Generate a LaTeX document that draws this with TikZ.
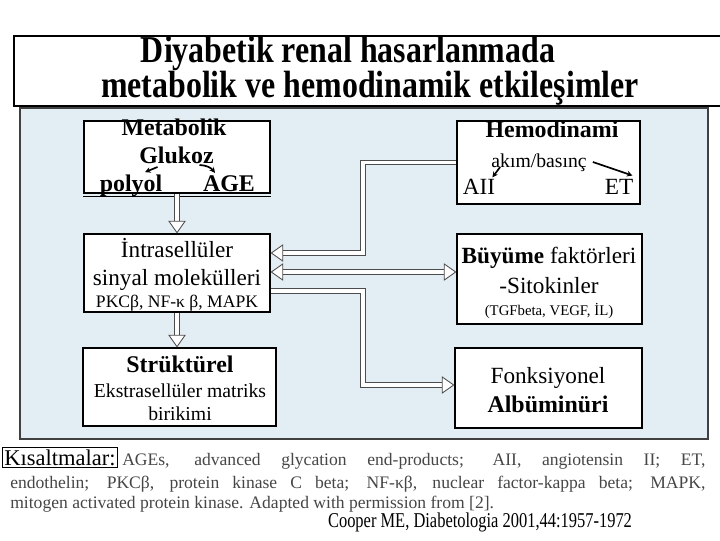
\documentclass[tikz,border=0pt]{standalone}
\usepackage{fontspec}
\setmainfont{Liberation Serif}
\newfontfamily\narrowfont[FakeStretch=0.78]{Liberation Serif}
\newfontfamily\titlefont[FakeStretch=0.84]{Liberation Serif}
\usetikzlibrary{arrows.meta,calc}
\definecolor{panelblue}{RGB}{226,238,243}
\definecolor{notegray}{RGB}{70,70,70}
\tikzset{>=Stealth,
  box/.style={draw,fill=white,line width=0.8pt,inner sep=0pt},
  txt/.style={anchor=base,inner sep=0pt},
  big/.style={font=\fontsize{16.5}{19}\selectfont},
  bigb/.style={font=\bfseries\fontsize{17}{20}\selectfont},
  mid/.style={font=\fontsize{14}{16}\selectfont},
  head/.style={txt,font=\titlefont\bfseries\fontsize{27}{30}\selectfont},
  note/.style={anchor=base west,inner sep=0pt,text=notegray,font=\fontsize{12.5}{14}\selectfont},
  link/.style={draw=black!70,double=white,line width=0.6pt,double distance=2.8pt,
    -{Triangle[open,fill=white,length=9pt,width=12.5pt]}},
  linkboth/.style={link,{Triangle[open,fill=white,length=9pt,width=12.5pt]}-{Triangle[open,fill=white,length=9pt,width=12.5pt]}},
  small/.style={->,line width=1.2pt,>={Stealth[length=4pt,width=4pt]}}}
\begin{document}
\begin{tikzpicture}[x=0.025cm,y=-0.025cm]
\useasboundingbox (0,0) rectangle (720,540);
\fill[white] (0,0) rectangle (720,540);
% title
\draw[line width=0.8pt] (720,36) -- (14,36) -- (14,106) -- (720,106);
\node[head] (title1) at (348,62) {Diyabetik renal hasarlanmada};
\node[head] (title2) at (370,97) {metabolik ve hemodinamik etkileşimler};
% panel
\draw[draw=black!75,fill=panelblue,line width=1pt] (20,108) rectangle (708,439);
% boxes
\node[box,minimum width=4.65cm,minimum height=1.8cm] (met) at (177,157) {};
\draw[line width=0.8pt] ([yshift=-2pt]met.south west) -- ([yshift=-2pt]met.south east);
\node[box,minimum width=4.575cm,minimum height=2.075cm] (hemo) at (548.5,162.5) {};
\node[box,minimum width=4.65cm,minimum height=1.95cm] (intra) at (177,273) {};
\node[box,minimum width=4.625cm,minimum height=2.25cm] (growth) at (549.5,279) {};
\node[box,minimum width=4.825cm,minimum height=1.95cm] (struct) at (179.5,387) {};
\node[box,minimum width=4.675cm,minimum height=2cm] (func) at (548.5,388) {};
% metabolik
\node[txt,bigb] (metT) at (174,135) {Metabolik};
\node[txt,bigb] (gluk) at (176.5,163) {Glukoz};
\node[txt,bigb] (poly) at (131,191) {polyol};
\node[txt,bigb] (age) at (229,191) {AGE};
\draw[small] ($(gluk.base)+(-19,4)$) -- ($(poly.north)+(14,-2)$);
\draw[small] ($(gluk.base)+(23,2)$) to[bend left=25] ($(age.north)+(-14,-2)$);
% hemodinami
\node[txt,bigb] (hemoT) at (552,137) {Hemodinami};
\node[txt,mid] (flow) at (539,167) {akım/basınç};
\node[txt,big] (aii) at (479,194) {AII};
\node[txt,big] (et) at (619,194) {ET};
\draw[small] ($(flow.base west)+(9,0)$) -- ($(aii.north east)+(-3,-1)$);
\draw[small] ($(flow.base east)+(6,-5)$) -- ($(et.north east)+(-1,-3)$);
% intrasellüler
\node[txt,big] (intra1) at (177,257) {İntrasellüler};
\node[txt,big] (intra2) at (177,285) {sinyal molekülleri};
\node[txt,font=\fontsize{12.5}{14}\selectfont] (intra3) at (177,307) {PKCβ, NF-κ β, MAPK};
% büyüme
\node[txt,big] (grow1) at (549,263) {\textbf{Büyüme} faktörleri};
\node[txt,big] (grow2) at (549,293) {-Sitokinler};
\node[txt,font=\fontsize{10.5}{12}\selectfont] (grow3) at (549,315) {(TGFbeta, VEGF, İL)};
% strüktürel
\node[txt,bigb] (struct1) at (180,372) {Strüktürel};
\node[txt,mid] (struct2) at (180,397) {Ekstrasellüler matriks};
\node[txt,mid] (struct3) at (180,420) {birikimi};
% fonksiyonel
\node[txt,big] (func1) at (548,383) {Fonksiyonel};
\node[txt,bigb] (func2) at (548,412) {Albüminüri};
% links
\coordinate (jA) at (363,253);
\coordinate (jB) at (363,272);
\coordinate (jC) at (363,291);
\coordinate (jD) at (363,385);
\draw[link] (met) -- (intra);
\draw[link] (intra.south) -- (intra.south |- struct.north);
\draw[link] (hemo.west) -| (jA) -- (jA -| intra.east);
\draw[linkboth] (jB -| intra.east) -- (jB -| growth.west);
\draw[link] (jC -| intra.east) -- (jC) -- (jD) -- (jD -| func.west);
% notes
\node[txt,draw,inner sep=1.5pt,font=\fontsize{16}{18}\selectfont] (abbr) at (60,465) {Kısaltmalar:};
\node[note] (note1) at (122,465) {\makebox[14.575cm][s]{AGEs, advanced glycation end-products; AII, angiotensin II; ET,}};
\node[note] (note2) at (10,488) {\makebox[17.375cm][s]{endothelin; PKCβ, protein kinase C beta; NF-κβ, nuclear factor-kappa beta; MAPK,}};
\node[note] (note3) at (10,508) {mitogen activated protein kinase. Adapted with permission from [2].};
\node[txt,font=\narrowfont\fontsize{15}{17}\selectfont] (cite) at (480,527) {Cooper ME, Diabetologia 2001,44:1957-1972};
\end{tikzpicture}
\end{document}
